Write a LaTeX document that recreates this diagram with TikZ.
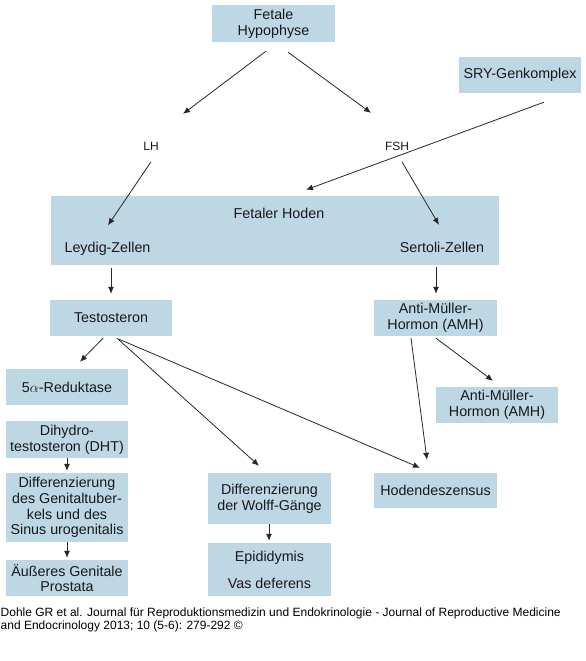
\documentclass[tikz,border=0pt]{standalone}
\usepackage{fontspec}
\setmainfont{Liberation Sans}
\usetikzlibrary{arrows.meta,calc}
\definecolor{boxblue}{RGB}{189,215,228}
\definecolor{txt}{RGB}{25,25,25}
\definecolor{arrc}{RGB}{40,40,40}
\begin{document}
\begin{tikzpicture}[x=1pt,y=-1pt,
  box/.style={fill=boxblue, text=txt, inner sep=0pt, align=center,
    font=\fontsize{14.3}{15.8}\selectfont},
  lbl/.style={text=txt, inner sep=0pt, anchor=base, font=\fontsize{14.3}{15.8}\selectfont},
  small/.style={text=txt, inner sep=0pt, anchor=base, font=\fontsize{12}{13}\selectfont},
  foot/.style={text=black, inner sep=0pt, anchor=base west, font=\fontsize{12}{13}\selectfont},
  arr/.style={draw=arrc, line width=0.8pt, -{Latex[length=7pt,width=6pt]}}]
\useasboundingbox (0,0) rectangle (586,661);
\fill[white] (0,0) rectangle (586,661);
% boxes
\node[box, minimum width=123pt, minimum height=37pt] (hyp) at (273.5,23.5) {Fetale\\Hypophyse};
\node[box, minimum width=122pt, minimum height=36pt] (sry) at (520,75) {SRY-Genkomplex};
\node[box, minimum width=448pt, minimum height=69pt] (hoden) at (275,230.5) {};
\node[lbl] (fh) at (279,218) {Fetaler Hoden};
\node[lbl] (leydig) at (107.5,252) {Leydig-Zellen};
\node[lbl] (sertoli) at (442,252) {Sertoli-Zellen};
\node[small] (lh) at (151,150) {LH};
\node[small] (fsh) at (397,150) {FSH};
\node[box, minimum width=122pt, minimum height=36pt] (testo) at (111,318) {Testosteron};
\node[box, minimum width=123pt, minimum height=36pt] (amh) at (435.5,318) {Anti-Müller-\\Hormon (AMH)};
\node[box, minimum width=122pt, minimum height=36pt] (red) at (67,387) {5$\alpha$-Reduktase};
\node[box, minimum width=122pt, minimum height=36pt] (amh2) at (497,405) {Anti-Müller-\\Hormon (AMH)};
\node[box, minimum width=122pt, minimum height=37pt] (dht) at (67,439.5) {Dihydro-\\testosteron (DHT)};
\node[box, minimum width=122pt, minimum height=69pt] (diff) at (67,507.5) {Differenzierung\\des Genitaltuber-\\kels und des\\Sinus urogenitalis};
\node[box, minimum width=122pt, minimum height=36pt] (aeuss) at (67,578) {Äußeres Genitale\\Prostata};
\node[box, minimum width=123pt, minimum height=51pt] (wolff) at (269.5,498.5) {Differenzierung\\der Wolff-Gänge};
\node[box, minimum width=123pt, minimum height=53pt] (epi) at (269.5,569.5) {Epididymis\\[11pt]Vas deferens};
\node[box, minimum width=123pt, minimum height=35pt] (hod) at (435.5,490.5) {Hodendeszensus};
% footer
\node[foot] (foot1) at (0.5,616.5) {Dohle GR et al. Journal für Reproduktionsmedizin und Endokrinologie - Journal of Reproductive Medicine};
\node[foot] (foot2) at (0.5,629.5) {and Endocrinology 2013; 10 (5-6): 279-292 ©};
% arrows
\draw[arr] ($(hyp.south)+(-7.5,9)$) -- ($(lh)+(32,-32)$);
\draw[arr] ($(hyp.south)+(14.5,10)$) -- ($(fsh)+(-26,-33)$);
\draw[arr] ($(sry.south)+(24,9)$) -- ($(hoden.north)+(31,-6)$);
\draw[arr] ($(lh)+(0,16)$) -- ($(leydig)+(0.5,-23)$);
\draw[arr] ($(fsh)+(5,16)$) -- ($(sertoli)+(-3,-22)$);
\draw[arr] ($(leydig)+(3.5,20)$) -- ($(testo.north)+(0,-6)$);
\draw[arr] ($(sertoli)+(-6,20)$) -- ($(amh.north)+(0.5,-6)$);
\draw[arr] ($(testo.south)+(-8,2)$) -- ($(red.north)+(13,-7)$);
\draw[arr] ($(testo.south)+(6,2)$) -- ($(wolff.north)+(-10.5,-7)$);
\draw[arr] ($(testo.south)+(8,3)$) -- ($(hod.north)+(-15.5,-5)$);
\draw[arr] ($(amh.south)+(-24.5,2)$) -- ($(hod.north)+(-8.5,-13)$);
\draw[arr] ($(amh.south)+(0.5,2)$) -- ($(amh2.north)+(-4,-6)$);
\draw[arr] (dht.south) -- ($(diff.north)+(0,-2)$);
\draw[arr] (diff.south) -- ($(aeuss.north)+(0,-2)$);
\draw[arr] ($(wolff.south)+(-0.5,0)$) -- ($(epi.north)+(-0.5,-2)$);
\end{tikzpicture}
\end{document}
